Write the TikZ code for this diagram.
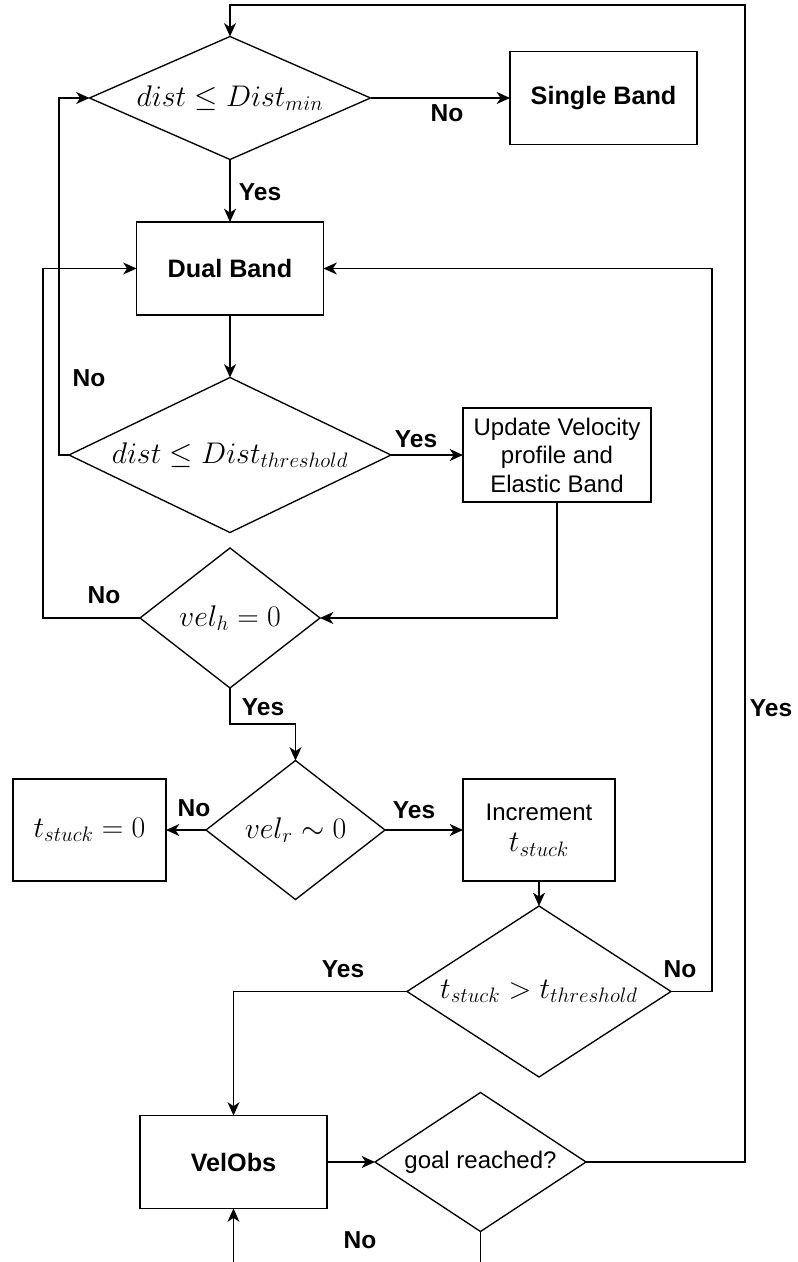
\RequirePackage{fix-cm}
\documentclass[tikz,border=0pt]{standalone}
\usepackage[no-math]{fontspec}
\setmainfont{Liberation Sans}
\usetikzlibrary{shapes.geometric,arrows.meta}
\begin{document}
\begin{tikzpicture}[x=0.75pt,y=-0.75pt,
  every node/.style={inner sep=0pt, outer sep=0pt},
  box/.style={draw, line width=1pt, rectangle, align=center, font=\fontsize{18}{21.4}\selectfont},
  dia/.style={draw, line width=1pt, diamond},
  mth/.style={font=\fontsize{22.4}{26}\selectfont},
  txt/.style={font=\fontsize{18}{21.4}\selectfont},
  bld/.style={font=\bfseries\fontsize{18.9}{22}\selectfont},
  lab/.style={font=\bfseries\fontsize{18.4}{21}\selectfont},
  conn/.style={line width=1pt, -{Stealth[length=10pt,width=9pt,inset=3pt]}},
  plain/.style={line width=1pt}
]
\useasboundingbox (0,0) rectangle (797,1262);

% nodes
\node[dia, minimum width=281*0.75pt, minimum height=123*0.75pt,
  label={[mth]center:$dist \leq Dist_{min}$}] (D1) at (230,98) {};
\node[box, bld, minimum width=187*0.75pt, minimum height=93*0.75pt] (SB) at (603.5,98) {Single Band};
\node[box, bld, minimum width=187*0.75pt, minimum height=93*0.75pt] (Dual) at (230,268.5) {Dual Band};
\node[dia, minimum width=322*0.75pt, minimum height=155*0.75pt,
  label={[mth]center:$dist \leq Dist_{threshold}$}] (D2) at (230,455) {};
\node[box, minimum width=188*0.75pt, minimum height=94*0.75pt] (Upd) at (557,455) {Update Velocity\\profile and\\Elastic Band};
\node[dia, minimum width=180*0.75pt, minimum height=140*0.75pt,
  label={[mth]center:$vel_h = 0$}] (D3) at (230,618) {};
\node[dia, minimum width=179*0.75pt, minimum height=139*0.75pt,
  label={[mth]center:$vel_r \sim 0$}] (D4) at (295.5,830) {};
\node[box, mth, minimum width=153*0.75pt, minimum height=102*0.75pt] (Ts) at (89.5,830) {$t_{stuck} = 0$};
\node[box, minimum width=152*0.75pt, minimum height=102*0.75pt] (Inc) at (539,830) {Increment\\[2pt]{\fontsize{22.4}{26}\selectfont$t_{stuck}$}};
\node[dia, minimum width=264*0.75pt, minimum height=171*0.75pt,
  label={[mth]center:$t_{stuck} > t_{threshold}$}] (D5) at (539,991.5) {};
\node[box, bld, minimum width=187*0.75pt, minimum height=93*0.75pt] (Vel) at (233.5,1162) {VelObs};
\node[dia, minimum width=211*0.75pt, minimum height=139*0.75pt,
  label={[txt]center:goal reached?}] (D6) at (480.5,1162) {};

% edge labels
\node[lab] (lNo1) at (447,113) {No};
\node[lab] (lYes1) at (260,192) {Yes};
\node[lab] (lNo2) at (89,378) {No};
\node[lab] (lYes2) at (416,439) {Yes};
\node[lab] (lNo3) at (104,595) {No};
\node[lab] (lYes3) at (263,707) {Yes};
\node[lab] (lNo4) at (194,808) {No};
\node[lab] (lYes4) at (414,810) {Yes};
\node[lab] (lYes5) at (343,969) {Yes};
\node[lab] (lNo5) at (680,969) {No};
\node[lab] (lYes6) at (771,708) {Yes};
\node[lab] (lNo6) at (360,1240) {No};

% helper coordinates
\coordinate (tr) at (745,5);
\coordinate (b1) at (480.5,1262);
\coordinate (b2) at (233.5,1262);

% connectors
\draw[conn] (D1.east) -- (SB.west);
\draw[conn] (D1.south) -- (Dual.north);
\draw[conn] (Dual.south) -- (D2.north);
\draw[conn] (D2.west) -- ++(-10,0) |- (D1.west);
\draw[conn] (D2.east) -- (Upd.west);
\draw[conn] (Upd.south) |- (D3.east);
\draw[conn] (D3.west) -- ++(-97,0) |- (Dual.west);
\draw[conn] (D3.south) -- ++(0,36) -| (D4.north);
\draw[conn] (D4.west) -- (Ts.east);
\draw[conn] (D4.east) -- (Inc.west);
\draw[conn] (Inc.south) -- (D5.north);
\draw[conn] (D5.east) -- ++(41,0) |- (Dual.east);
\draw[conn] (D5.west) -| (Vel.north);
\draw[conn] (Vel.east) -- (D6.west);
\draw[conn] (D6.east) -| (tr) -| (D1.north);
\draw[plain] (D6.south) -- (b1);
\draw[conn] (b2) -- (Vel.south);
\end{tikzpicture}
\end{document}
